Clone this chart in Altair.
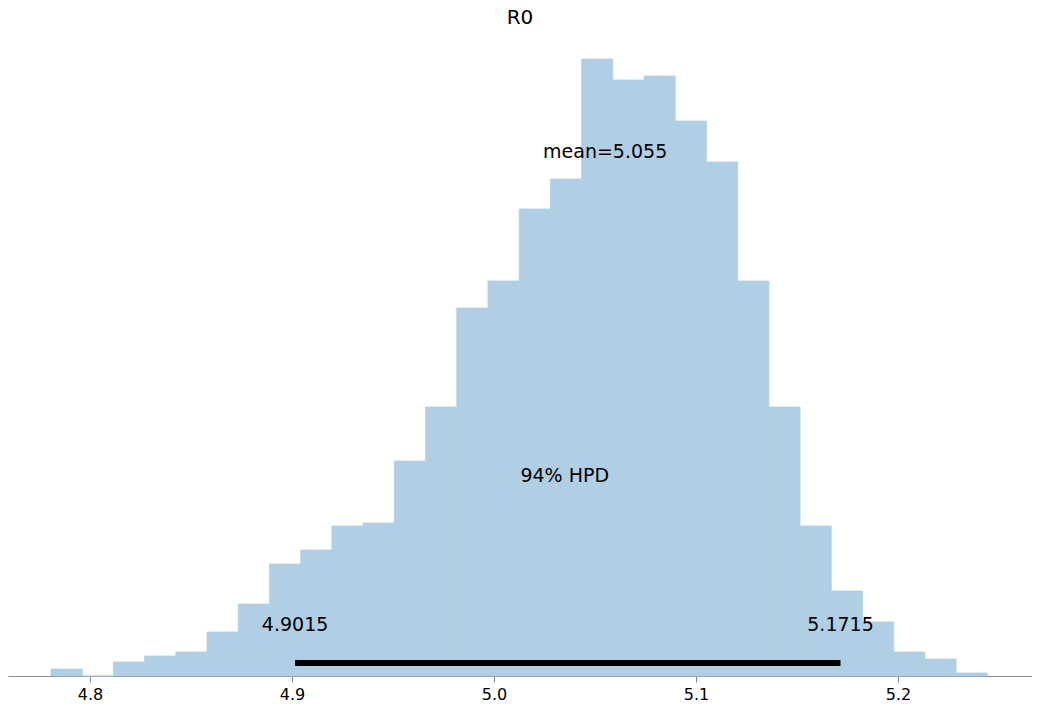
import pandas as pd
import altair as alt

bin_start = 4.7807
bin_width = 0.01545
counts = [7, 0, 14, 20, 24, 44, 72, 112, 126, 150, 153, 215, 269, 368, 395,
          467, 497, 617, 596, 600, 555, 514, 395, 269, 150, 85, 54, 24, 17, 3]
mean_value = 5.055
hpd = [4.9015, 5.1715]
tick_values = [4.8, 4.9, 5.0, 5.1, 5.2]

bars = pd.DataFrame({
    "lo": [bin_start + i * bin_width for i in range(len(counts))],
    "hi": [bin_start + (i + 1) * bin_width for i in range(len(counts))],
    "count": counts,
})

xs = alt.Scale(domain=[4.7594, 5.2663], nice=False, zero=False)
ys = alt.Scale(domain=[0, 636], nice=False)
x_axis = alt.Axis(values=tick_values, format=".1f", grid=False, labelFontSize=16,
                  labelFont="DejaVu Sans", labelColor="black", domainColor="#888",
                  tickColor="#888", tickSize=6, labelPadding=4, title=None)

hist = alt.Chart(bars).mark_rect(color="#b0cfe5", stroke="#b0cfe5", strokeWidth=0.8).encode(
    x=alt.X("lo:Q", scale=xs, axis=x_axis),
    x2="hi:Q",
    y=alt.Y("count:Q", scale=ys, axis=None),
    y2=alt.datum(0),
)

line_df = pd.DataFrame({"a": [hpd[0]], "b": [hpd[1]], "y": [13]})
hpd_line = alt.Chart(line_df).mark_rule(color="black", strokeWidth=6).encode(
    x=alt.X("a:Q", scale=xs), x2="b:Q", y=alt.Y("y:Q", scale=ys))

labels = pd.DataFrame({
    "x": [mean_value, (hpd[0] + hpd[1]) / 2 - 0.0015, hpd[0], hpd[1]],
    "y": [524, 200, 51, 51],
    "t": [f"mean={mean_value}", "94% HPD", "4.9015", "5.1715"],
})
texts = alt.Chart(labels).mark_text(fontSize=19, font="DejaVu Sans", color="black").encode(
    x=alt.X("x:Q", scale=xs), y=alt.Y("y:Q", scale=ys), text="t:N")

chart = alt.layer(hist, hpd_line, texts).properties(
    width=1024, height=636,
    title=alt.TitleParams("R0", fontSize=20, font="DejaVu Sans", fontWeight="normal", offset=12),
    autosize=alt.AutoSizeParams(type="none"),
    padding={"left": 0, "top": 32, "right": 0, "bottom": 40},
).configure_view(stroke=None)

chart.save("out.html", embed_options={"renderer": "svg", "actions": False})
